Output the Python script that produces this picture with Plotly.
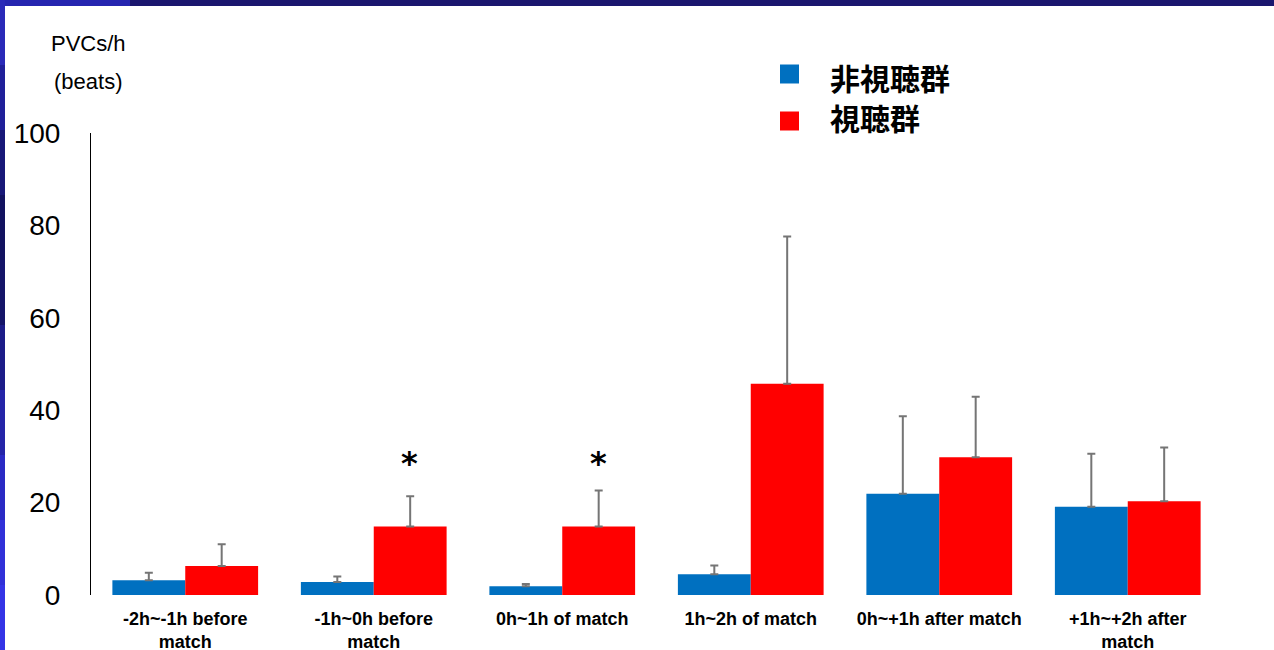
import plotly.graph_objects as go

# ---- data ----
categories = [
    "-2h~-1h before<br>match",
    "-1h~0h before<br>match",
    "0h~1h of match",
    "1h~2h of match",
    "0h~+1h after match",
    "+1h~+2h after<br>match",
]
non_viewing = [3.2, 2.8, 1.9, 4.5, 21.9, 19.1]
non_viewing_sd = [1.6, 1.2, 0.5, 1.9, 16.8, 11.5]
viewing = [6.3, 14.8, 14.8, 45.7, 29.8, 20.3]
viewing_sd = [4.7, 6.6, 7.8, 31.9, 13.1, 11.6]
series_names = ["非視聴群", "視聴群"]
significant = [1, 2]  # categories marked with *

W, H = 1274, 650
L, R, T, B = 91, 52, 133, 55
PW, PH = W - L - R, H - T - B


def px(x):
    return (x - L) / PW


def py(y):
    return (H - B - y) / PH


BLUE = "#0070C0"
RED = "#FF0000"
ERR = "#757575"

fig = go.Figure()
fig.add_bar(
    x=categories, y=non_viewing, name=series_names[0], marker_color=BLUE,
    marker_line_width=0,
    error_y=dict(type="data", array=non_viewing_sd, symmetric=False,
                 arrayminus=[0] * len(non_viewing_sd),
                 color=ERR, thickness=2, width=4),
)
fig.add_bar(
    x=categories, y=viewing, name=series_names[1], marker_color=RED,
    marker_line_width=0,
    error_y=dict(type="data", array=viewing_sd, symmetric=False,
                 arrayminus=[0] * len(viewing_sd),
                 color=ERR, thickness=2, width=4),
)

annotations = []
# significance marks above the viewing-group bars
for i in significant:
    annotations.append(dict(
        x=categories[i], y=28.5, xref="x", yref="y",
        text="<b>*</b>", showarrow=False, xshift=36,
        font=dict(family="DejaVu Sans", size=32, color="black"),
        yanchor="middle",
    ))

# axis title
annotations.append(dict(x=px(88), y=py(43), xref="paper", yref="paper",
                        text="PVCs/h", showarrow=False, xanchor="center",
                        yanchor="middle",
                        font=dict(family="Liberation Sans", size=22, color="black")))
annotations.append(dict(x=px(88), y=py(81), xref="paper", yref="paper",
                        text="(beats)", showarrow=False, xanchor="center",
                        yanchor="middle",
                        font=dict(family="Liberation Sans", size=22, color="black")))

# legend
shapes = []
legend_rows = [(series_names[0], BLUE, 74, 77), (series_names[1], RED, 121, 117)]
for name, color, sq_c, txt_c in legend_rows:
    shapes.append(dict(type="rect", xref="paper", yref="paper",
                       x0=px(780), x1=px(799), y0=py(sq_c - 9.5), y1=py(sq_c + 9.5),
                       fillcolor=color, line_width=0))
    annotations.append(dict(x=px(828), y=py(txt_c), xref="paper", yref="paper",
                            text="<b>%s</b>" % name, showarrow=False,
                            xanchor="left", yanchor="middle",
                            font=dict(family="Noto Sans CJK JP", size=30, color="black")))

# slide frame strips along the top and left edges
shapes.append(dict(type="rect", xref="paper", yref="paper",
                   x0=px(0), x1=px(130), y0=py(0), y1=py(6),
                   fillcolor="#2626b0", line_width=0, layer="above"))
shapes.append(dict(type="rect", xref="paper", yref="paper",
                   x0=px(130), x1=px(W), y0=py(0), y1=py(6),
                   fillcolor="#1a166e", line_width=0, layer="above"))
left_strip = ["#2a2ab8", "#20209a", "#181878", "#121260", "#141468",
              "#1c1c88", "#2424a8", "#2a2ac4", "#3030d8", "#3434e6"]
seg = H / len(left_strip)
for k, c in enumerate(left_strip):
    shapes.append(dict(type="rect", xref="paper", yref="paper",
                       x0=px(0), x1=px(5), y0=py(k * seg), y1=py((k + 1) * seg),
                       fillcolor=c, line_width=0, layer="above"))

fig.update_layout(
    width=W, height=H,
    margin=dict(l=L, r=R, t=T, b=B, pad=0, autoexpand=False),
    paper_bgcolor="white", plot_bgcolor="white",
    barmode="group", bargap=0.227, bargroupgap=0,
    showlegend=False,
    font=dict(family="Liberation Sans", color="black"),
    annotations=annotations, shapes=shapes,
    xaxis=dict(type="category", showline=False, showgrid=False, zeroline=False,
               automargin=False, ticks="", ticklabelstandoff=11,
               tickfont=dict(family="Liberation Sans", size=18, color="black"),
               tickprefix="<b>", ticksuffix="</b>"),
    yaxis=dict(range=[0, 100], tickvals=[0, 20, 40, 60, 80, 100],
               showline=True, linecolor="black", linewidth=1,
               showgrid=False, zeroline=False, ticks="", automargin=False,
               ticklabelstandoff=24,
               tickfont=dict(family="Liberation Sans", size=28, color="black")),
)

fig.write_html("out.html")
